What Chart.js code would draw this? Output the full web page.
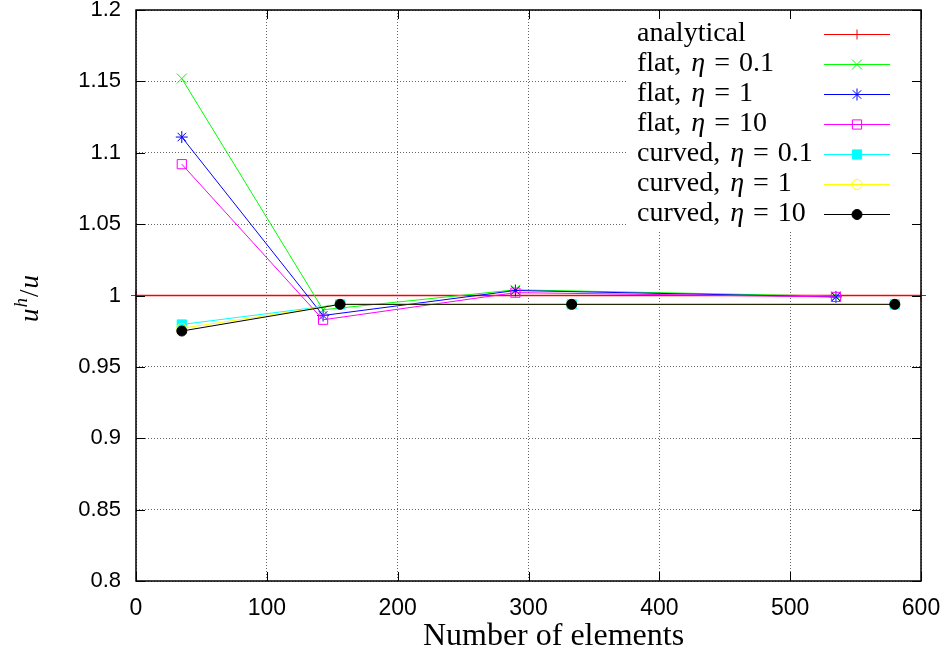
<!DOCTYPE html>
<html>
<head>
<meta charset="utf-8">
<script src="https://cdn.jsdelivr.net/npm/chart.js@4.4.1/dist/chart.umd.min.js"></script>
<style>
  html, body { margin: 0; padding: 0; background: #fff; }
  #wrap { width: 946px; height: 659px; position: relative; }
</style>
</head>
<body>
<div id="wrap"><canvas id="conv"></canvas></div>
<script>
// Convergence data: u^h/u vs number of elements
const analyticalN = [0, 600];
const flatN = [35, 143, 290, 535];
const curvedN = [35, 156, 333, 580];

const analytical = [1, 1];
const flat01 = [1.152, 0.990, 1.004, 0.9995];
const flat1 = [1.111, 0.986, 1.0035, 0.999];
const flat10 = [1.092, 0.983, 1.002, 0.999];
const curved01 = [0.9797, 0.9938, 0.9938, 0.9938];
const curved1 = [0.977, 0.9938, 0.9938, 0.9938];
const curved10 = [0.9751, 0.9938, 0.9938, 0.9938];

const xTicks = [0, 100, 200, 300, 400, 500, 600];
const yTicks = [0.8, 0.85, 0.9, 0.95, 1, 1.05, 1.1, 1.15, 1.2];

const serif = '"Liberation Serif", "Times New Roman", serif';
const sans = '"Liberation Sans", Arial, sans-serif';

function pts(xs, ys) {
    return xs.map((x, i) => ({ x: x, y: ys[i] }));
}

// legend pieces: prefix, eta value (null = plain label)
const series = [
    { label: 'analytical', eta: null, xs: analyticalN, ys: analytical, color: '#ff0000', style: 'cross', radius: 5, fill: false, width: 1.6 },
    { label: 'flat, ', eta: '0.1', xs: flatN, ys: flat01, color: '#00ff00', style: 'crossRot', radius: 7, fill: false, width: 1 },
    { label: 'flat, ', eta: '1', xs: flatN, ys: flat1, color: '#0000ff', style: 'star', radius: 6, fill: false, width: 1 },
    { label: 'flat, ', eta: '10', xs: flatN, ys: flat10, color: '#ff00ff', style: 'rect', radius: 6.5, fill: false, width: 1 },
    { label: 'curved, ', eta: '0.1', xs: curvedN, ys: curved01, color: '#00ffff', style: 'rect', radius: 6.5, fill: true, width: 1 },
    { label: 'curved, ', eta: '1', xs: curvedN, ys: curved1, color: '#ffff00', style: 'circle', radius: 5, fill: false, width: 1 },
    { label: 'curved, ', eta: '10', xs: curvedN, ys: curved10, color: '#000000', style: 'circle', radius: 5, fill: true, width: 1 }
];

const datasets = series.map((s, i) => ({
    label: s.label + (s.eta ? 'η = ' + s.eta : ''),
    data: pts(s.xs, s.ys),
    showLine: true,
    borderColor: s.color,
    borderWidth: s.width,
    backgroundColor: s.fill ? s.color : 'rgba(0,0,0,0)',
    pointStyle: s.style,
    pointRadius: s.radius,
    pointBorderColor: s.color,
    pointBorderWidth: 1,
    pointBackgroundColor: s.fill ? s.color : 'rgba(0,0,0,0)',
    clip: false,
    order: series.length - i
}));

// frame, inner ticks, axis titles and legend
const framePlugin = {
    id: 'frame',
    beforeDatasetsDraw(chart) {
        const { ctx, chartArea: a } = chart;
        ctx.save();
        ctx.fillStyle = '#fff';
        ctx.fillRect(628, a.top + 1, a.right - 629, 219);
        ctx.restore();
    },
    afterDatasetsDraw(chart) {
        const { ctx } = chart;
        ctx.save();
        ctx.textBaseline = 'middle';
        series.forEach((s, i) => {
            const y = 34 + i * 30;
            let x = 637;
            ctx.fillStyle = '#000';
            ctx.font = '28px ' + serif;
            ctx.fillText(s.label, x, y);
            x += ctx.measureText(s.label).width + 3;
            if (s.eta) {
                ctx.font = 'italic 28px ' + serif;
                ctx.fillText('η', x, y);
                x += ctx.measureText('η').width + 9;
                ctx.font = '28px ' + serif;
                ctx.fillText('=', x, y);
                x += ctx.measureText('=').width + 9;
                ctx.fillText(s.eta, x, y);
            }
            ctx.strokeStyle = s.color;
            ctx.lineWidth = 1;
            ctx.beginPath();
            ctx.moveTo(824, y + 0.5);
            ctx.lineTo(890, y + 0.5);
            ctx.stroke();
            ctx.fillStyle = s.fill ? s.color : 'rgba(0,0,0,0)';
            Chart.helpers.drawPoint(ctx, {
                pointStyle: s.style, radius: s.radius, borderWidth: 1, rotation: 0
            }, 857, y + 0.5);
        });
        ctx.restore();
    },
    afterDraw(chart) {
        const { ctx, chartArea: a, scales } = chart;
        ctx.save();
        ctx.strokeStyle = '#000';
        ctx.lineWidth = 1.5;
        ctx.strokeRect(a.left, a.top, a.right - a.left, a.bottom - a.top);
        ctx.lineWidth = 1;
        ctx.beginPath();
        xTicks.forEach(v => {
            const px = Math.round(scales.x.getPixelForValue(v)) + 0.5;
            ctx.moveTo(px, a.bottom); ctx.lineTo(px, a.bottom - 9);
            ctx.moveTo(px, a.top); ctx.lineTo(px, a.top + 9);
        });
        yTicks.forEach(v => {
            const py = Math.round(scales.y.getPixelForValue(v)) + 0.5;
            ctx.moveTo(a.left, py); ctx.lineTo(a.left + 9, py);
            ctx.moveTo(a.right, py); ctx.lineTo(a.right - 9, py);
        });
        ctx.stroke();

        // x title
        ctx.fillStyle = '#000';
        ctx.textAlign = 'center';
        ctx.textBaseline = 'middle';
        ctx.font = '32px ' + serif;
        ctx.fillText('Number of elements', (a.left + a.right) / 2 + 25, 637);

        // y title: u^h/u, rotated
        ctx.translate(30, 298);
        ctx.rotate(-Math.PI / 2);
        ctx.textAlign = 'left';
        ctx.textBaseline = 'alphabetic';
        const parts = [
            { t: 'u', f: 'italic 27px ' + serif, dy: 0 },
            { t: 'h', f: 'italic 19px ' + serif, dy: -11 },
            { t: '/', f: '27px ' + serif, dy: 0 },
            { t: 'u', f: 'italic 27px ' + serif, dy: 0 }
        ];
        let w = 0;
        parts.forEach(p => { ctx.font = p.f; w += ctx.measureText(p.t).width + 1; });
        let x = -w / 2;
        parts.forEach(p => {
            ctx.font = p.f;
            ctx.fillText(p.t, x, 8 + p.dy);
            x += ctx.measureText(p.t).width + 1;
        });
        ctx.restore();
    }
};

new Chart(document.getElementById('conv'), {
    type: 'scatter',
    data: { datasets: datasets },
    options: {
        responsive: true,
        maintainAspectRatio: false,
        animation: false,
        layout: { padding: { left: 0, top: 10, right: 25, bottom: 0 } },
        plugins: {
            legend: { display: false },
            tooltip: { enabled: false }
        },
        scales: {
            x: {
                type: 'linear',
                min: 0,
                max: 600,
                afterBuildTicks: s => { s.ticks = xTicks.map(v => ({ value: v })); },
                afterFit: s => { s.height = 78; s.paddingLeft = 0; s.paddingRight = 0; },
                grid: { color: '#666', lineWidth: 1, drawTicks: false },
                border: { display: false, dash: [1, 2] },
                ticks: {
                    color: '#000',
                    padding: 14,
                    maxRotation: 0,
                    font: { family: sans, size: 23 }
                }
            },
            y: {
                min: 0.8,
                max: 1.2,
                afterBuildTicks: s => { s.ticks = yTicks.map(v => ({ value: v })); },
                afterFit: s => { s.width = 136; s.paddingTop = 0; s.paddingBottom = 0; },
                grid: { color: '#666', lineWidth: 1, drawTicks: false },
                border: { display: false, dash: [1, 2] },
                ticks: {
                    color: '#000',
                    padding: 15,
                    font: { family: sans, size: 22 },
                    callback: v => String(Number(v.toFixed(2)))
                }
            }
        }
    },
    plugins: [framePlugin]
});
</script>
</body>
</html>
